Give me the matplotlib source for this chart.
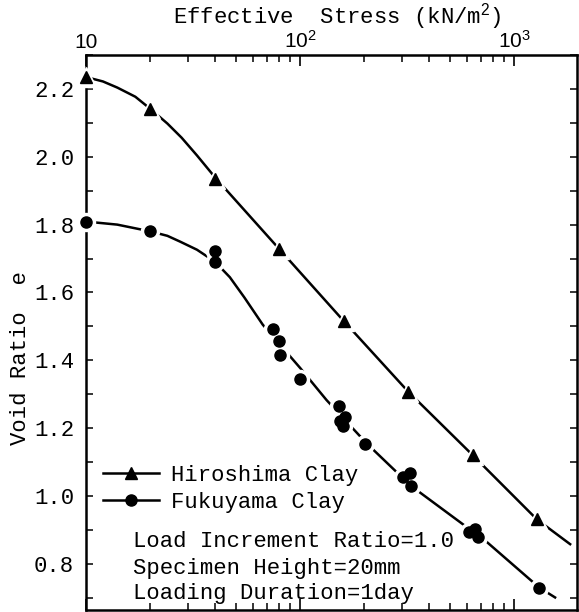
import matplotlib
matplotlib.use("Agg")
import matplotlib.pyplot as plt
from matplotlib.lines import Line2D
from matplotlib.ticker import FixedLocator, FixedFormatter, MultipleLocator, NullFormatter

# Hiroshima clay - measured points
hiro_stress = [10, 20, 40, 80, 160, 320, 640, 1280]
hiro_e = [2.235, 2.141, 1.934, 1.728, 1.516, 1.308, 1.121, 0.931]
# Hiroshima clay - drawn curve
hiro_curve_stress = [10, 12, 14, 17, 20, 24, 28, 33, 40, 80, 160, 320, 640, 1280, 1830]
hiro_curve_e = [2.235, 2.222, 2.204, 2.177, 2.141, 2.098, 2.056, 2.004, 1.940,
                1.728, 1.516, 1.308, 1.121, 0.931, 0.858]

# Fukuyama clay - measured points
fuku_stress = [10, 20, 40, 40, 75, 80, 81, 100, 152, 153, 163, 159, 202,
               304, 327, 330, 618, 655, 679, 1313]
fuku_e = [1.809, 1.780, 1.721, 1.691, 1.492, 1.456, 1.415, 1.344, 1.266, 1.221,
          1.234, 1.207, 1.154, 1.057, 1.067, 1.030, 0.895, 0.902, 0.880, 0.730]
# Fukuyama clay - drawn curve
fuku_curve_stress = [10, 14, 20, 24, 27.5, 33, 40, 47, 55, 67, 83, 100, 133, 205,
                     330, 745, 1313, 1556]
fuku_curve_e = [1.809, 1.800, 1.780, 1.767, 1.750, 1.726, 1.691, 1.645, 1.585,
                1.505, 1.437, 1.378, 1.283, 1.155, 1.030, 0.865, 0.730, 0.701]

xtick_vals = [10, 100, 1000]
xtick_labels = ["10", r"$10^2$", r"$10^3$"]
notes = ["Load Increment Ratio=1.0", "Specimen Height=20mm", "Loading Duration=1day"]

plt.rcParams["mathtext.fontset"] = "custom"
plt.rcParams["mathtext.rm"] = "Liberation Sans"
plt.rcParams["mathtext.it"] = "Liberation Sans:italic"
mono = "Liberation Mono"

fig = plt.figure(figsize=(5.79, 6.12), dpi=100)
ax = fig.add_axes([86 / 579, 2 / 612, 491 / 579, 555 / 612])

ax.plot(hiro_curve_stress, hiro_curve_e, color="black", lw=1.8, zorder=2)
ax.plot(fuku_curve_stress, fuku_curve_e, color="black", lw=1.8, zorder=2)
# white halos break the curve around each marker
ax.plot(hiro_stress, hiro_e, ls="none", marker="^", ms=14, color="white", zorder=3, clip_on=False)
ax.plot(fuku_stress, fuku_e, ls="none", marker="o", ms=13, color="white", zorder=3, clip_on=False)
ax.plot(hiro_stress, hiro_e, ls="none", marker="^", ms=8, color="black", zorder=4, clip_on=False)
ax.plot(fuku_stress, fuku_e, ls="none", marker="o", ms=8, color="black", zorder=4, clip_on=False)

ax.set_xscale("log")
ax.set_xlim(10, 1970)
ax.set_ylim(0.664, 2.30)

for s in ax.spines.values():
    s.set_linewidth(1.8)

ax.xaxis.set_major_locator(FixedLocator(xtick_vals))
ax.xaxis.set_major_formatter(FixedFormatter(xtick_labels))
ax.xaxis.set_minor_formatter(NullFormatter())
ax.tick_params(axis="x", which="both", direction="in", top=True, bottom=True,
               labeltop=True, labelbottom=False, pad=2, labelsize=15)
ax.tick_params(axis="x", which="major", length=8, width=1.2)
ax.tick_params(axis="x", which="minor", length=5, width=1.1)
for lab in ax.get_xticklabels():
    lab.set_family("Liberation Sans")

ax.yaxis.set_major_locator(MultipleLocator(0.2))
ax.yaxis.set_minor_locator(MultipleLocator(0.1))
ax.tick_params(axis="y", which="both", direction="in", left=True, right=True,
               length=5, width=1.1, pad=8.5, labelsize=16)
for lab in ax.get_yticklabels():
    lab.set_family(mono)

fig.text(337 / 579, 1 - 17 / 612, "Effective  Stress (kN/m$^2$)", family=mono,
         fontsize=16, ha="center", va="center")
fig.text(21 / 579, 1 - 358 / 612, "Void Ratio  e", family=mono, fontsize=16,
         rotation=90, ha="center", va="center")

handles = [Line2D([], [], color="black", lw=1.8, marker="^", ms=8),
           Line2D([], [], color="black", lw=1.8, marker="o", ms=8)]
ax.legend(handles, ["Hiroshima Clay", "Fukuyama Clay"], loc="upper left",
          bbox_to_anchor=(0.035, 0.262), frameon=False, borderpad=0, borderaxespad=0,
          handlelength=2.5, handletextpad=0.55, labelspacing=0.3,
          prop={"family": mono, "size": 16})

for i, t in enumerate(notes):
    ax.text(0.0957, [0.124, 0.0755, 0.029][i], t, transform=ax.transAxes,
            family=mono, fontsize=16, va="center", ha="left")

fig.savefig("out.png", dpi=100)
